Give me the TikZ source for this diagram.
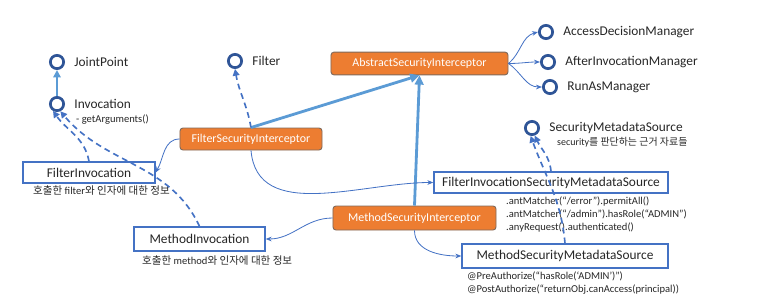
\documentclass[tikz,border=0pt]{standalone}
\usepackage{fontspec}
\setmainfont{Carlito}
\newfontfamily\hangul{Noto Sans CJK KR}
\usetikzlibrary{arrows.meta,positioning}
\definecolor{ink}{HTML}{262626}
\definecolor{edge}{HTML}{4472C4}
\definecolor{navy}{HTML}{2F5597}
\definecolor{sky}{HTML}{5B9BD5}
\definecolor{amber}{HTML}{ED7D31}
\definecolor{rim}{HTML}{7F6A5C}
\newcommand{\ko}[1]{{\hangul #1}}

\begin{document}
\begin{tikzpicture}[x=.03cm,y=.03cm,
  font=\fontsize{11.4}{13}\selectfont, text=ink,
  iface/.style={circle,draw=navy,line width=2.3pt,fill=white,minimum size=.40cm,inner sep=0pt},
  tag/.style={anchor=west,inner sep=1pt},
  cls/.style={draw=edge,fill=white,line width=1.1pt,minimum width=#1,minimum height=.66cm,inner sep=2pt},
  core/.style={draw=rim,fill=amber,rounded corners=2.5pt,line width=.8pt,text=white,font=\fontsize{10.2}{12}\selectfont,minimum width=#1,minimum height=.68cm,inner sep=2pt},
  note/.style={align=left,inner sep=0pt,font=\fontsize{9}{10.7}\selectfont},
  heavy/.style={-{Triangle[length=2.8mm,width=2.6mm]},draw=sky,line width=2.4pt},
  realize/.style={-{Triangle[length=2mm,width=2mm]},draw=edge,line width=1.4pt,dash pattern=on 5pt off 3.5pt},
  assoc/.style={-{Stealth[length=1.8mm,width=1.4mm]},draw=edge,line width=.7pt},
]
\useasboundingbox (0,0) rectangle (776,-306);

% interfaces
\foreach \id/\x/\y/\title in {jp/57/62/JointPoint, inv/57/104/Invocation, flt/235/61/Filter,
  adm/546/32/AccessDecisionManager, aim/548/62/AfterInvocationManager, ram/550/87/RunAsManager,
  sms/532/128/SecurityMetadataSource}
{
  \node[iface] (\id) at (\x,-\y) {};
  \node[tag,right=.24cm of \id] {\title};
}

% classes
\node[cls=3.96cm,minimum height=.63cm] (fiv) at (89,-172.5) {FilterInvocation};
\node[cls=3.93cm,minimum height=.72cm] (miv) at (199.5,-239) {MethodInvocation};
\node[cls=7.02cm,minimum height=.63cm] (fisms) at (551,-182.5) {FilterInvocationSecurityMetadataSource};
\node[cls=6.18cm,minimum height=.72cm] (msms) at (565,-256) {MethodSecurityMetadataSource};

% interceptors
\node[core=5.31cm] (abs) at (419.5,-63.5) {AbstractSecurityInterceptor};
\node[core=4.26cm,minimum height=.66cm] (fsi) at (251,-139) {FilterSecurityInterceptor};
\node[core=4.89cm,minimum height=.72cm] (msi) at (414.5,-218) {MethodSecurityInterceptor};

% notes
\node[note,anchor=west] at (76,-120) {- getArguments()};
\node[note,anchor=west] at (33,-191) {\ko{호출한} filter\ko{와 인자에 대한 정보}};
\node[note,anchor=west] at (142,-261) {\ko{호출한} method\ko{와 인자에 대한 정보}};
\node[note,anchor=west,font=\fontsize{8.5}{10}\selectfont] at (557,-142) {security\ko{를 판단하는 근거 자료들}};
\node[note,anchor=north west] at (506,-197) {.antMatcher(“/error”).permitAll()\\.antMatcher(“/admin”).hasRole(“ADMIN”)\\.anyRequest().authenticated()};
\node[note,anchor=north west] at (467,-272) {@PreAuthorize(“hasRole(‘ADMIN’)”)\\@PostAuthorize(“returnObj.canAccess(principal))};

% inheritance
\draw[heavy,line width=1.9pt,-{Triangle[length=2.2mm,width=2.2mm]}] (inv) -- (jp);
\draw[heavy] (fsi.north) -- (abs.south);
\draw[heavy] (msi.north) -- (abs.south);

% realization
\draw[realize] (fsi.north) to[out=100,in=-80] (flt.south);
\draw[realize] (fiv.north) to[out=100,in=-55] (inv.-120);
\draw[realize] (miv.north) to[out=115,in=-50] (inv.-65);
\draw[realize] (fisms.north) to[out=95,in=-65] (sms.-70);
\draw[realize] (msms.north) to[out=95,in=-70] (sms.-100);

% association
\draw[assoc] (abs.east) to[out=40,in=195] (adm.west);
\draw[assoc] (abs.east) to[out=0,in=180] (aim.west);
\draw[assoc] (abs.east) to[out=-35,in=180] (ram.west);
\draw[assoc] (fsi.west) to[out=180,in=60] (fiv.east);
\draw[assoc] (fsi.south) to[out=-85,in=180] (fisms.west);
\draw[assoc] (msi.west) to[out=180,in=0] (miv.east);
\draw[assoc] (msi.south) to[out=-90,in=180] (msms.west);
\end{tikzpicture}
\end{document}
